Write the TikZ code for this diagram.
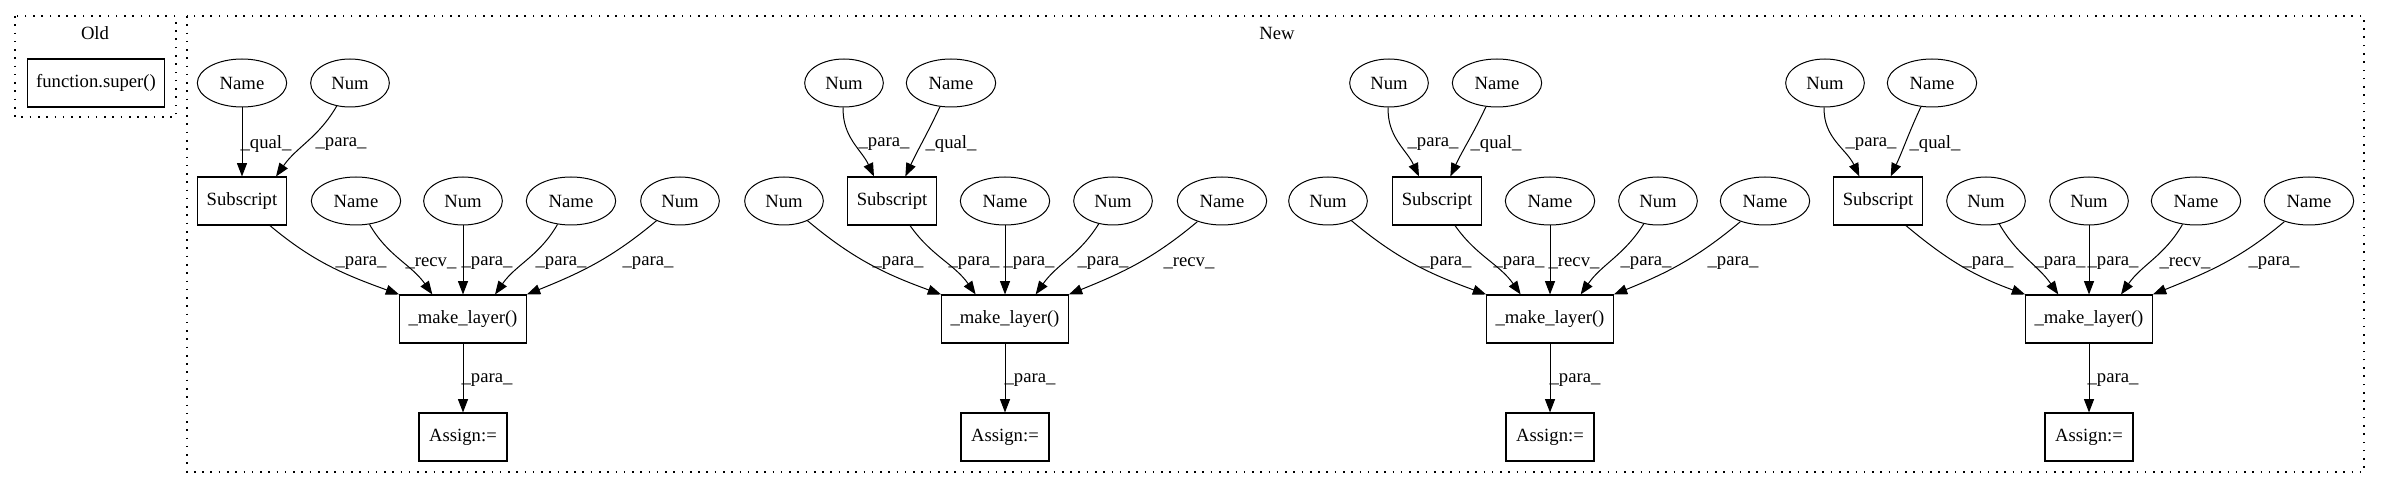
\documentclass[tikz,border=0pt]{standalone}
\usepackage{fontspec}
\setmainfont{Liberation Serif}
\usetikzlibrary{arrows.meta,shapes.geometric}
\begin{document}
\begin{tikzpicture}[x=0.75pt,y=-0.75pt,
  font=\fontsize{14pt}{16pt}\selectfont,
  ell/.style={draw, ellipse, minimum height=36pt, inner sep=0pt, line width=0.75pt},
  nm/.style={ell, minimum width=67pt},
  nu/.style={ell, minimum width=59pt},
  bx/.style={draw, rectangle, minimum height=36pt, inner sep=0pt, line width=0.8pt},
  sub/.style={bx, minimum width=67pt},
  mk/.style={bx, minimum width=95pt},
  asg/.style={bx, minimum width=66pt},
  conn/.style={line width=0.75pt, -{Triangle[length=10pt,width=7.5pt]}},
  lbl/.style={inner sep=0pt},
  clus/.style={draw, line width=0.9pt, dash pattern=on 1.2pt off 5pt}
]
\useasboundingbox (0,0) rectangle (2384,488);

% clusters
\draw[clus] (15,16) rectangle (176,117);
\node[lbl] (oldlbl) at (95,33) {Old};
\node[bx, minimum width=103pt] (fs) at (96,83) {function.super()};
\draw[clus] (187,16) rectangle (2364,472);
\node[lbl] (newlbl) at (1277,33) {New};

% ---------------- group 1
\node[nm] (n1a) at (242,83) {Name};
\node[nu] (n1b) at (350,83) {Num};
\node[sub] (s1) at (242,201) {Subscript};
\node[nm] (n1c) at (356,201) {Name};
\node[nu] (n1d) at (463,201) {Num};
\node[nm] (n1e) at (571,201) {Name};
\node[nu] (n1f) at (680,201) {Num};
\node[mk] (m1) at (463,319) {\_make\_layer()};
\node[asg] (a1) at (463,437) {Assign:=};

\draw[conn] (n1a) -- (s1);
\draw[conn] (n1b) to[out=-120,in=55] ([xshift=25.5pt]s1.north);
\draw[conn] ([xshift=-13pt]s1.south east) to[out=-40,in=160] (m1.north west);
\draw[conn] (n1c) to[out=-60,in=125] ([xshift=-23pt]m1.north);
\draw[conn] (n1d) -- (m1);
\draw[conn] (n1e) to[out=-120,in=55] ([xshift=24pt]m1.north);
\draw[conn] (n1f) to[out=-140,in=22] (m1.north east);
\draw[conn] (m1) -- (a1);

\node[lbl] (l1a) at (266,144) {\_qual\_};
\node[lbl] (l1b) at (341,144) {\_para\_};
\node[lbl] (l1c) at (361,263) {\_para\_};
\node[lbl] (l1d) at (431,263) {\_recv\_};
\node[lbl] (l1e) at (487,263) {\_para\_};
\node[lbl] (l1f) at (561,263) {\_para\_};
\node[lbl] (l1g) at (648,263) {\_para\_};
\node[lbl] (l1h) at (487,380) {\_para\_};

% ---------------- group 2
\node[nu] (n2a) at (844,83) {Num};
\node[nm] (n2b) at (951,83) {Name};
\node[nu] (n2c) at (784,201) {Num};
\node[sub] (s2) at (892,201) {Subscript};
\node[nm] (n2d) at (1005,201) {Name};
\node[nu] (n2e) at (1113,201) {Num};
\node[nm] (n2f) at (1222,201) {Name};
\node[mk] (m2) at (1005,319) {\_make\_layer()};
\node[asg] (a2) at (1005,437) {Assign:=};

\draw[conn] (n2a) to[out=-92,in=115] ([xshift=-13.5pt]s2.north);
\draw[conn] (n2b) to[out=-115,in=65] ([xshift=10pt]s2.north);
\draw[conn] (n2c) to[out=-40,in=160] (m2.north west);
\draw[conn] ([xshift=13.5pt]s2.south) to[out=-55,in=125] ([xshift=-22pt]m2.north);
\draw[conn] (n2d) -- (m2);
\draw[conn] (n2e) to[out=-122,in=55] ([xshift=23pt]m2.north);
\draw[conn] (n2f) to[out=-140,in=22] (m2.north east);
\draw[conn] (m2) -- (a2);

\node[lbl] (l2a) at (884,144) {\_para\_};
\node[lbl] (l2b) at (951,144) {\_qual\_};
\node[lbl] (l2c) at (898,263) {\_para\_};
\node[lbl] (l2d) at (974,263) {\_para\_};
\node[lbl] (l2e) at (1029,263) {\_para\_};
\node[lbl] (l2f) at (1103,263) {\_para\_};
\node[lbl] (l2g) at (1189,263) {\_recv\_};
\node[lbl] (l2h) at (1030,380) {\_para\_};

% ---------------- group 3
\node[nu] (n3a) at (1389,83) {Num};
\node[nm] (n3b) at (1497,83) {Name};
\node[nu] (n3c) at (1328,201) {Num};
\node[sub] (s3) at (1437,201) {Subscript};
\node[nm] (n3d) at (1550,201) {Name};
\node[nu] (n3e) at (1658,201) {Num};
\node[nm] (n3f) at (1765,201) {Name};
\node[mk] (m3) at (1550,319) {\_make\_layer()};
\node[asg] (a3) at (1550,437) {Assign:=};

\draw[conn] (n3a) to[out=-92,in=115] ([xshift=-13.5pt]s3.north);
\draw[conn] (n3b) to[out=-115,in=65] ([xshift=10pt]s3.north);
\draw[conn] (n3c) to[out=-40,in=160] (m3.north west);
\draw[conn] ([xshift=13.5pt]s3.south) to[out=-55,in=125] ([xshift=-22pt]m3.north);
\draw[conn] (n3d) -- (m3);
\draw[conn] (n3e) to[out=-122,in=55] ([xshift=23pt]m3.north);
\draw[conn] (n3f) to[out=-140,in=22] (m3.north east);
\draw[conn] (m3) -- (a3);

\node[lbl] (l3a) at (1433,144) {\_para\_};
\node[lbl] (l3b) at (1496,144) {\_qual\_};
\node[lbl] (l3c) at (1446,263) {\_para\_};
\node[lbl] (l3d) at (1519,263) {\_para\_};
\node[lbl] (l3e) at (1574,263) {\_recv\_};
\node[lbl] (l3f) at (1646,263) {\_para\_};
\node[lbl] (l3g) at (1733,263) {\_para\_};
\node[lbl] (l3h) at (1575,380) {\_para\_};

% ---------------- group 4
\node[nu] (n4a) at (1825,83) {Num};
\node[nm] (n4b) at (1932,83) {Name};
\node[sub] (s4) at (1878,201) {Subscript};
\node[nu] (n4c) at (1986,201) {Num};
\node[nu] (n4d) at (2089,201) {Num};
\node[nm] (n4e) at (2196,201) {Name};
\node[nm] (n4f) at (2309,201) {Name};
\node[mk] (m4) at (2089,319) {\_make\_layer()};
\node[asg] (a4) at (2089,437) {Assign:=};

\draw[conn] (n4a) to[out=-92,in=115] ([xshift=-14pt]s4.north);
\draw[conn] (n4b) to[out=-115,in=65] ([xshift=9.5pt]s4.north);
\draw[conn] ([xshift=-13pt]s4.south east) to[out=-40,in=160] (m4.north west);
\draw[conn] (n4c) to[out=-60,in=125] ([xshift=-23pt]m4.north);
\draw[conn] (n4d) -- (m4);
\draw[conn] (n4e) to[out=-120,in=55] ([xshift=24pt]m4.north);
\draw[conn] (n4f) to[out=-140,in=22] (m4.north east);
\draw[conn] (m4) -- (a4);

\node[lbl] (l4a) at (1871,144) {\_para\_};
\node[lbl] (l4b) at (1935,144) {\_qual\_};
\node[lbl] (l4c) at (1988,263) {\_para\_};
\node[lbl] (l4d) at (2060,263) {\_para\_};
\node[lbl] (l4e) at (2113,263) {\_para\_};
\node[lbl] (l4f) at (2185,263) {\_recv\_};
\node[lbl] (l4g) at (2274,263) {\_para\_};
\node[lbl] (l4h) at (2113,380) {\_para\_};
\end{tikzpicture}
\end{document}
